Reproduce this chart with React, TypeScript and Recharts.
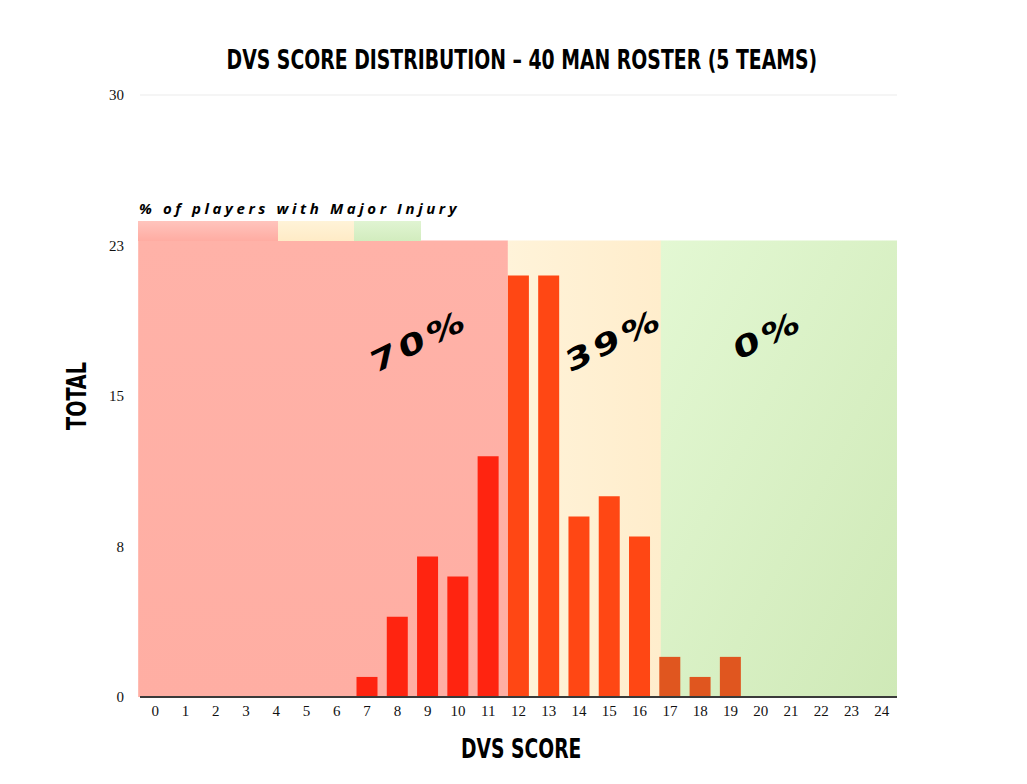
import { BarChart, Bar, XAxis, YAxis, CartesianGrid, ReferenceArea, Cell } from "recharts";

const scores = ["0", "1", "2", "3", "4", "5", "6", "7", "8", "9", "10", "11", "12", "13", "14", "15", "16", "17", "18", "19", "20", "21", "22", "23", "24"];
const totals = [0, 0, 0, 0, 0, 0, 0, 1, 4, 7, 6, 12, 21, 21, 9, 10, 8, 2, 1, 2, 0, 0, 0, 0, 0];
const injuryPct = ["70%", "39%", "0%"];
const yTicks = [0, 7.5, 15, 22.5, 30];

const data = scores.map((s, i) => ({ score: s, total: totals[i] }));

// score groups behind the bars: first/last category of each zone
const zoneFrom = ["0", "12", "17"];
const zoneTo = ["11", "16", "24"];
const zoneTop = 22.75;

const GAP = 0.15; // barCategoryGap as a fraction of a band
const GAP2 = 0.2;

const barColor = (i: number) => (i >= 17 ? "#e0561f" : i >= 12 ? "#ff4714" : "#ff2410");

// zone rect snapped to bar edges: the area covers whole bands, shift its ends by the bar gap
const zoneShape = (bands: number, shiftL: number, shiftR: number, fill: string) => (p: any) => {
  const band = p.width / bands;
  const x = p.x + shiftL * band;
  const w = p.width + (shiftR - shiftL) * band;
  return <rect x={x} y={p.y} width={w} height={p.height} fill={fill} />;
};

const W = 1011;
const H = 776;
const titleFont = { fontFamily: "DejaVu Sans Condensed", fontWeight: 700, color: "#000" };

const App = () => (
  <div style={{ position: "relative", width: W, height: H, fontFamily: "Liberation Serif" }}>
    <svg width={0} height={0} style={{ position: "absolute" }}>
      <defs>
        <linearGradient id="gRed" x1="0" y1="0" x2="0" y2="1">
          <stop offset="0%" stopColor="#ffb2a8" />
          <stop offset="100%" stopColor="#ffaea3" />
        </linearGradient>
        <linearGradient id="gYel" x1="0" y1="0" x2="1" y2="0">
          <stop offset="0%" stopColor="#fff3d9" />
          <stop offset="100%" stopColor="#ffedcc" />
        </linearGradient>
        <linearGradient id="gGrn" x1="0" y1="0" x2="1" y2="1">
          <stop offset="0%" stopColor="#e3f8d3" />
          <stop offset="100%" stopColor="#cfe9b7" />
        </linearGradient>
      </defs>
    </svg>
    <BarChart
      width={W}
      height={H}
      data={data}
      margin={{ top: 87, right: 122, bottom: 57, left: 32 }}
      barCategoryGap="15%"
    >
      <ReferenceArea x1={zoneFrom[0]} x2={zoneTo[0]} y1={0} y2={zoneTop} ifOverflow="visible" shape={zoneShape(12, -0.06, GAP, "url(#gRed)")} />
      <ReferenceArea x1={zoneFrom[1]} x2={zoneTo[1]} y1={0} y2={zoneTop} ifOverflow="visible" shape={zoneShape(5, GAP, GAP2 + 0.01, "url(#gYel)")} />
      <ReferenceArea x1={zoneFrom[2]} x2={zoneTo[2]} y1={0} y2={zoneTop} ifOverflow="visible" shape={zoneShape(8, GAP2, 0, "url(#gGrn)")} />
      <CartesianGrid vertical={false} stroke="#000" strokeOpacity={0.08} />
      <XAxis
        dataKey="score"
        interval={0}
        tickLine={false}
        axisLine={{ stroke: "#3a3a3a", strokeWidth: 2 }}
        tick={{ fill: "#111", fontSize: 15, fontFamily: "Liberation Serif" }}
      />
      <YAxis
        domain={[0, 30]}
        ticks={yTicks}
        tickFormatter={(v: number) => String(Math.round(v))}
        axisLine={false}
        tickLine={false}
        width={100}
        tickMargin={10}
        tick={{ fill: "#111", fontSize: 15, fontFamily: "Liberation Serif" }}
      />
      <Bar dataKey="total" isAnimationActive={false}>
        {data.map((d, i) => (
          <Cell key={d.score} fill={barColor(i)} />
        ))}
      </Bar>
    </BarChart>

    {/* injury key strip above the zones */}
    <div style={{ position: "absolute", left: 130, top: 213, width: 140, height: 20, background: "linear-gradient(#ffc4bd, #ffaca2)" }} />
    <div style={{ position: "absolute", left: 270, top: 213, width: 76, height: 20, background: "linear-gradient(#fff3d8, #ffebc6)" }} />
    <div style={{ position: "absolute", left: 346, top: 213, width: 67, height: 20, background: "linear-gradient(#e0f4d2, #d2ecbe)" }} />

    <div style={{ position: "absolute", left: 0, width: 1027, top: 37, textAlign: "center" }}>
      <span style={{ ...titleFont, display: "inline-block", fontSize: 26, transform: "scaleX(0.805)", whiteSpace: "nowrap" }}>
        DVS SCORE DISTRIBUTION – 40 MAN ROSTER (5 TEAMS)
      </span>
    </div>
    <div style={{ position: "absolute", left: 0, width: 1027, top: 726, textAlign: "center" }}>
      <span style={{ ...titleFont, display: "inline-block", fontSize: 26, transform: "scaleX(0.8)" }}>DVS SCORE</span>
    </div>
    <div style={{ position: "absolute", left: 69, top: 388, width: 0, height: 0 }}>
      <div style={{ ...titleFont, position: "absolute", transform: "translate(-50%, -50%) rotate(-90deg) scaleX(0.82)", fontSize: 26, whiteSpace: "nowrap" }}>
        TOTAL
      </div>
    </div>
    <div style={{ position: "absolute", left: 131, top: 190, fontFamily: "Open Sans", fontStyle: "italic", fontWeight: 700, fontSize: 15, letterSpacing: 3.6, color: "#000", whiteSpace: "nowrap" }}>
      % of players with Major Injury
    </div>
    {[
      { x: 411, y: 333 },
      { x: 606, y: 332 },
      { x: 760, y: 327 },
    ].map((p, i) => (
      <div key={injuryPct[i]} style={{ position: "absolute", left: p.x, top: p.y, width: 0, height: 0 }}>
        <div style={{ position: "absolute", transform: "translate(-50%, -50%) rotate(-26deg) skewX(-10deg) scaleX(1.35)", fontFamily: "DejaVu Sans", fontWeight: 700, fontSize: 29, letterSpacing: 3, whiteSpace: "nowrap", color: "#000" }}>
          {injuryPct[i]}
        </div>
      </div>
    ))}
  </div>
);

export default App;
